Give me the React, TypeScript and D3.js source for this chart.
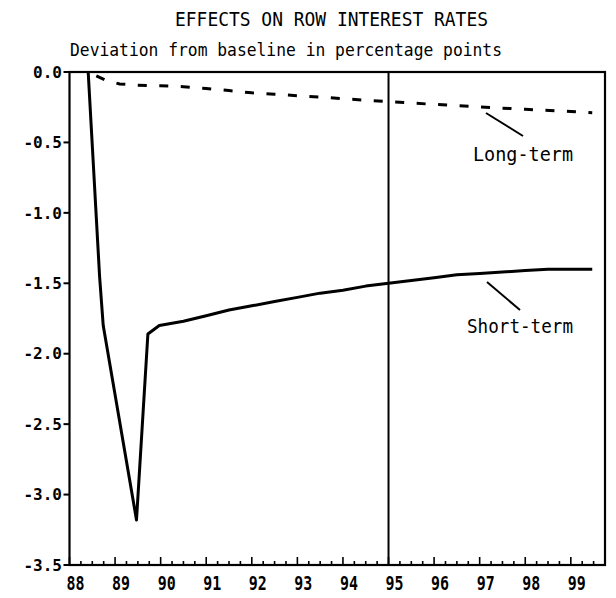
import React from "react";
import * as d3 from "d3";

const title = "EFFECTS ON ROW INTEREST RATES";
const subtitle = "Deviation from baseline in percentage points";

const yTickValues = [0, -0.5, -1.0, -1.5, -2.0, -2.5, -3.0, -3.5];
const yTickLabels = ["0.0", "-0.5", "-1.0", "-1.5", "-2.0", "-2.5", "-3.0", "-3.5"];
const xTickYears = [1988, 1989, 1990, 1991, 1992, 1993, 1994, 1995, 1996, 1997, 1998, 1999];
const xTickLabels = ["88", "89", "90", "91", "92", "93", "94", "95", "96", "97", "98", "99"];

const shortDates = [1988.41, 1988.66, 1988.74, 1989.47, 1989.72, 1989.97, 1990.5, 1991.0, 1991.5, 1992.0, 1992.5, 1993.0, 1993.5, 1994.0, 1994.5, 1995.0, 1995.5, 1996.0, 1996.5, 1997.0, 1997.5, 1998.0, 1998.5, 1999.0, 1999.47];
const shortValues = [0.0, -1.45, -1.8, -3.18, -1.86, -1.8, -1.77, -1.73, -1.69, -1.66, -1.63, -1.6, -1.57, -1.55, -1.52, -1.5, -1.48, -1.46, -1.44, -1.43, -1.42, -1.41, -1.4, -1.4, -1.4];

const longDates = [1988.41, 1988.8, 1989.1, 1989.5, 1990.0, 1990.5, 1991.0, 1991.5, 1992.0, 1992.5, 1993.0, 1993.5, 1994.0, 1994.5, 1995.0, 1996.0, 1997.0, 1998.0, 1999.0, 1999.47];
const longValues = [0.0, -0.06, -0.085, -0.094, -0.097, -0.104, -0.117, -0.132, -0.148, -0.158, -0.168, -0.178, -0.19, -0.2, -0.21, -0.23, -0.248, -0.265, -0.28, -0.29];

const markerYear = 1995;
const seriesLabels = ["Long-term", "Short-term"];

const W = 616;
const H = 598;
const L = 69.5, R = 605, T = 72, B = 565;
const MONO = "'DejaVu Sans Mono', monospace";

export default function App() {
  const x = d3.scaleLinear().domain([1988, 1999.75]).range([L, R]);
  const y = d3.scaleLinear().domain([-3.5, 0]).range([B, T]);
  const line = d3
    .line<[number, number]>()
    .x((d) => x(d[0]))
    .y((d) => y(d[1]));
  const shortPts: [number, number][] = shortDates.map((d, i) => [d, shortValues[i]]);
  const longPts: [number, number][] = longDates.map((d, i) => [d, longValues[i]]);
  const minor: number[] = [];
  for (let q = 1988; q < 1999.75 - 1e-6; q += 0.25) minor.push(q);

  return (
    <svg
      width={W}
      height={H}
      style={{ position: "absolute", left: 0, top: 0, background: "#fff" }}
    >
      <rect x={0} y={0} width={W} height={H} fill="#fff" />
      <text x={175} y={26} fontFamily={MONO} fontSize={19} textLength={313} lengthAdjust="spacingAndGlyphs" fill="#000">
        {title}
      </text>
      <text x={70} y={56} fontFamily={MONO} fontSize={18} textLength={432} lengthAdjust="spacingAndGlyphs" fill="#000">
        {subtitle}
      </text>

      {/* frame */}
      <rect x={L} y={T} width={R - L} height={B - T} fill="none" stroke="#000" strokeWidth={2.2} />

      {/* y ticks */}
      {yTickValues.map((v, i) => (
        <g key={"y" + i}>
          <line x1={L - 6} x2={L} y1={y(v)} y2={y(v)} stroke="#000" strokeWidth={2} />
          <text x={62} y={y(v)} dy="0.36em" textAnchor="end" fontFamily={MONO} fontWeight="bold" fontSize={16} fill="#000">
            {yTickLabels[i]}
          </text>
        </g>
      ))}

      {/* x minor ticks */}
      {minor.map((m, i) => (
        <line key={"m" + i} x1={x(m)} x2={x(m)} y1={B} y2={B - (Math.abs(m - Math.round(m)) < 1e-6 ? 8 : 4)} stroke="#000" strokeWidth={1.6} />
      ))}
      {xTickYears.map((yr, i) => (
        <text key={"xl" + i} x={x(yr) + 6} y={590} textAnchor="middle" fontFamily={MONO} fontWeight="bold" fontSize={20} textLength={18} lengthAdjust="spacingAndGlyphs" fill="#000">
          {xTickLabels[i]}
        </text>
      ))}

      {/* marker line */}
      <line x1={x(markerYear)} x2={x(markerYear)} y1={T} y2={B} stroke="#000" strokeWidth={2} />

      {/* series */}
      <path d={line(longPts) || ""} fill="none" stroke="#000" strokeWidth={3} strokeDasharray="9 12.5" strokeDashoffset={12.5} />
      <path d={line(shortPts) || ""} fill="none" stroke="#000" strokeWidth={3} strokeLinejoin="round" />

      {/* annotations */}
      <line x1={486} y1={113} x2={523} y2={136} stroke="#000" strokeWidth={2} />
      <text x={473} y={161} fontFamily={MONO} fontSize={19} textLength={100} lengthAdjust="spacingAndGlyphs" fill="#000">
        {seriesLabels[0]}
      </text>
      <line x1={487} y1={282} x2={520} y2={310} stroke="#000" strokeWidth={2} />
      <text x={467} y={333} fontFamily={MONO} fontSize={19} textLength={106} lengthAdjust="spacingAndGlyphs" fill="#000">
        {seriesLabels[1]}
      </text>
    </svg>
  );
}
